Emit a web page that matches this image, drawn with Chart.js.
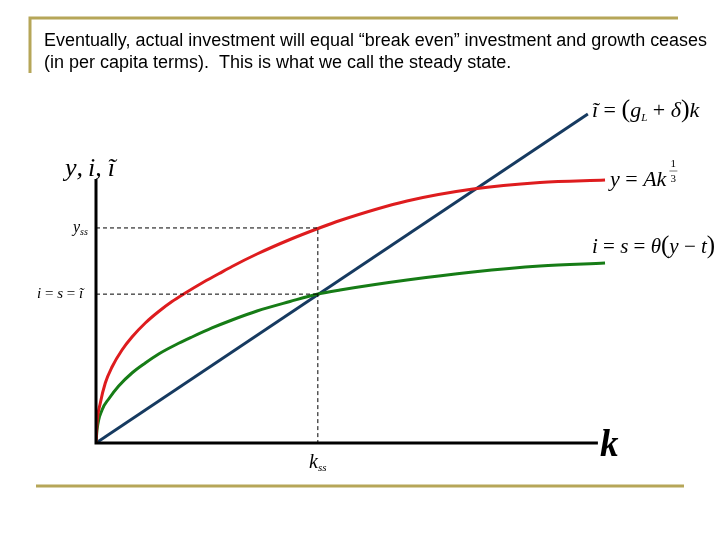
<!DOCTYPE html>
<html>
<head>
<meta charset="utf-8">
<script src="https://cdn.jsdelivr.net/npm/chart.js@4.4.1/dist/chart.umd.min.js"></script>
<style>
  html, body { margin: 0; padding: 0; background: #fff; }
</style>
</head>
<body>
<canvas id="steady" width="720" height="540"></canvas>
<script>
// capital per worker (k) and the three curves
const outputK = [0, 0.020, 0.086, 0.185, 0.319, 0.518, 0.717, 0.982, 1.249, 1.514, 1.779, 2.112, 2.445, 2.710, 3.208, 3.865, 4.423, 4.862, 6.196, 7.511, 8.846, 10.142]
const outputY = [0, 0.583, 1.166, 1.749, 2.216, 2.711, 3.090, 3.499, 3.834, 4.125, 4.373, 4.665, 4.933, 5.146, 5.510, 5.933, 6.254, 6.487, 7.055, 7.405, 7.595, 7.668]

const savingK = [0, 0.020, 0.120, 0.253, 0.452, 0.717, 0.982, 1.249, 1.580, 1.913, 2.311, 2.710, 3.208, 3.865, 4.423, 4.862, 6.196, 7.511, 8.846, 10.142]
const savingY = [0, 0.379, 0.962, 1.283, 1.662, 2.041, 2.332, 2.595, 2.857, 3.090, 3.353, 3.586, 3.848, 4.125, 4.344, 4.461, 4.752, 4.985, 5.160, 5.248]

const breakEvenK = [0, 9.80]
const breakEvenY = [0, 9.59]

// steady state
const kSteady = 4.42
const ySteady = 6.27
const iSteady = 4.34

// end of the drawn axes
const axisTopY = 7.70
const axisRightK = 10.0

const zip = (xs, ys) => xs.map((x, i) => ({x: x, y: ys[i]}))

const GOLD = 'rgb(182, 166, 88)'
const SERIF = '"Liberation Serif", "DejaVu Serif", serif'

// draws a row of text pieces one after another
function runs(ctx, x, y, parts) {
  parts.forEach(p => {
    ctx.font = p.f
    ctx.fillText(p.t, x, y + (p.dy || 0))
    x += ctx.measureText(p.t).width + (p.gap || 0)
  })
  return x
}

const decor = {
  id: 'decor',
  afterDatasetsDraw(chart) {
    const {ctx, scales: {x, y}} = chart
    ctx.save()
    ctx.strokeStyle = '#000'
    ctx.lineWidth = 3
    ctx.lineCap = 'butt'
    ctx.beginPath()
    ctx.moveTo(x.getPixelForValue(0), y.getPixelForValue(axisTopY))
    ctx.lineTo(x.getPixelForValue(0), y.getPixelForValue(0))
    ctx.lineTo(x.getPixelForValue(axisRightK), y.getPixelForValue(0))
    ctx.stroke()
    ctx.restore()
  },
  afterDraw(chart) {
    const ctx = chart.ctx
    ctx.save()

    // gold frame lines
    ctx.strokeStyle = GOLD
    ctx.lineWidth = 3
    ctx.beginPath()
    ctx.moveTo(30, 73)
    ctx.lineTo(30, 18)
    ctx.lineTo(678, 18)
    ctx.stroke()
    ctx.beginPath()
    ctx.moveTo(36, 486)
    ctx.lineTo(684, 486)
    ctx.stroke()

    // heading
    ctx.fillStyle = '#000'
    ctx.textBaseline = 'alphabetic'
    ctx.font = '18px "Liberation Sans", Arial, sans-serif'
    ctx.fillText('Eventually, actual investment will equal \u201cbreak even\u201d investment and growth ceases', 44, 46, 663)
    ctx.fillText('(in per capita terms).  This is what we call the steady state.', 44, 68, 468)

    const it = s => 'italic ' + s + 'px ' + SERIF
    const rm = s => s + 'px ' + SERIF

    // axis labels
    runs(ctx, 65, 176, [
      {t: 'y', f: it(26)}, {t: ',', f: it(26), gap: 5}, {t: 'i', f: it(26)},
      {t: ',', f: it(26), gap: 6}, {t: '\u0129', f: it(26)}
    ])
    runs(ctx, 73, 232, [{t: 'y', f: it(16)}, {t: 'ss', f: it(10), dy: 3}])
    runs(ctx, 37, 298, [{t: 'i', f: it(15)}, {t: ' = ', f: rm(15)}, {t: 's', f: it(15)}, {t: ' = ', f: rm(15)}, {t: '\u0129', f: it(15)}])
    runs(ctx, 309, 468, [{t: 'k', f: it(20)}, {t: 'ss', f: it(11), dy: 3}])
    runs(ctx, 600, 456, [{t: 'k', f: 'bold ' + it(37)}])

    // curve equations
    runs(ctx, 592, 117, [
      {t: '\u0129', f: it(22)}, {t: ' = ', f: rm(22)}, {t: '(', f: rm(26)},
      {t: 'g', f: it(22)}, {t: 'L', f: it(11), dy: 4}, {t: ' + ', f: rm(22)},
      {t: '\u03b4', f: it(22)}, {t: ')', f: rm(26)}, {t: 'k', f: it(22)}
    ])
    const kEnd = runs(ctx, 610, 186, [
      {t: 'y', f: it(22)}, {t: ' = ', f: rm(22)}, {t: 'A', f: it(22)}, {t: 'k', f: it(22)}
    ])
    ctx.font = rm(11)
    ctx.fillText('1', kEnd + 4, 167)
    ctx.fillText('3', kEnd + 4, 182)
    ctx.lineWidth = 0.8
    ctx.strokeStyle = '#555'
    ctx.beginPath()
    ctx.moveTo(kEnd + 3, 171)
    ctx.lineTo(kEnd + 11, 171)
    ctx.stroke()
    runs(ctx, 592, 253, [
      {t: 'i', f: it(21)}, {t: ' = ', f: rm(21)}, {t: 's', f: it(21)}, {t: ' = ', f: rm(21)},
      {t: '\u03b8', f: it(21)}, {t: '(', f: rm(25)}, {t: 'y', f: it(21)}, {t: ' \u2212 ', f: rm(21)},
      {t: 't', f: it(21)}, {t: ')', f: rm(25)}
    ])

    ctx.restore()
  }
}

const curve = (data, color) => ({
  data: data,
  showLine: true,
  borderColor: color,
  borderWidth: 3,
  pointRadius: 0,
  cubicInterpolationMode: 'monotone'
})

const dashed = data => ({
  data: data,
  showLine: true,
  borderColor: '#000',
  borderWidth: 1,
  borderDash: [4, 3],
  pointRadius: 0
})

new Chart(document.getElementById('steady').getContext('2d'), {
  type: 'scatter',
  data: {
    datasets: [
      dashed([{x: 0, y: ySteady}, {x: kSteady, y: ySteady}, {x: kSteady, y: 0}]),
      dashed([{x: 0, y: iSteady}, {x: kSteady, y: iSteady}]),
      curve(zip(outputK, outputY), 'rgb(222, 28, 30)'),
      curve(zip(savingK, savingY), 'rgb(22, 124, 22)'),
      curve(zip(breakEvenK, breakEvenY), 'rgb(22, 58, 96)')
    ]
  },
  options: {
    responsive: false,
    animation: false,
    layout: {padding: {left: 96, right: 97, top: 100, bottom: 97}},
    plugins: {legend: {display: false}, tooltip: {enabled: false}},
    scales: {
      x: {type: 'linear', min: 0, max: 10.5, display: false},
      y: {type: 'linear', min: 0, max: 10, display: false}
    }
  },
  plugins: [decor]
})
</script>
</body>
</html>
